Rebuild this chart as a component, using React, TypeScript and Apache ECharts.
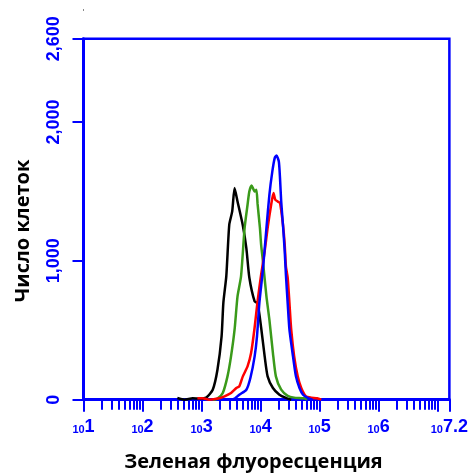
import React, { useEffect, useRef } from "react";
import * as echarts from "echarts";

// x values are log10 of fluorescence intensity, y values are cell counts
const blackSeries: [number, number][] = [
  [2.59, 12], [2.71, 0], [2.85, 10], [2.97, 8], [3.08, 15], [3.19, 72], [3.27, 216],
  [3.34, 456], [3.37, 698], [3.42, 890], [3.47, 1260], [3.52, 1356], [3.56, 1524],
  [3.61, 1428], [3.70, 1255], [3.76, 1090], [3.81, 880], [3.90, 708], [3.95, 696],
  [4.01, 520], [4.07, 312], [4.12, 168], [4.21, 84], [4.32, 36], [4.43, 13], [4.52, 0],
];
const greenSeries: [number, number][] = [
  [3.19, 0], [3.27, 8], [3.36, 48], [3.44, 168], [3.50, 312], [3.56, 504], [3.61, 744],
  [3.67, 890], [3.73, 1236], [3.78, 1404], [3.81, 1500], [3.85, 1543], [3.90, 1500],
  [3.93, 1512], [3.95, 1410], [3.99, 1236], [4.01, 1116], [4.04, 1000], [4.10, 744],
  [4.15, 576], [4.21, 336], [4.26, 168], [4.35, 72], [4.46, 28], [4.57, 15], [4.74, 10],
  [4.79, 0],
];
const redSeries: [number, number][] = [
  [2.93, 10], [3.02, 10], [3.13, 0], [3.30, 10], [3.39, 24], [3.50, 48], [3.59, 84],
  [3.64, 96], [3.70, 168], [3.78, 240], [3.84, 336], [3.90, 520], [3.95, 710], [4.01, 900],
  [4.07, 1068], [4.12, 1236], [4.18, 1404], [4.22, 1488], [4.25, 1440], [4.29, 1428],
  [4.33, 1416], [4.38, 1260], [4.41, 1116], [4.43, 960], [4.46, 880], [4.49, 696],
  [4.52, 504], [4.57, 312], [4.63, 168], [4.69, 84], [4.77, 24], [4.86, 15], [4.96, 10],
  [5.03, 0],
];
const blueSeries: [number, number][] = [
  [3.51, 0], [3.57, 10], [3.64, 36], [3.76, 72], [3.83, 160], [3.90, 312], [3.94, 456],
  [3.98, 696], [4.04, 936], [4.10, 1236], [4.15, 1476], [4.20, 1644], [4.24, 1740],
  [4.27, 1759], [4.31, 1716], [4.33, 1596], [4.35, 1428], [4.38, 1260], [4.41, 1068],
  [4.43, 900], [4.46, 696], [4.49, 504], [4.55, 312], [4.60, 168], [4.66, 84], [4.72, 36],
  [4.80, 13], [4.88, 0],
];

const xLabelExponents = [1, 2, 3, 4, 5, 6, 7.2];
const xMajorTicks = [1, 2, 3, 4, 5, 6, 7, 7.2];
const minorDecades = [1, 2, 3, 4, 5, 6];
const minorMultipliers = [2, 3, 4, 5, 6, 7, 8, 9];
const yTickValues = [0, 1000, 2000, 2600];

const xTitle = "Зеленая флуоресценция";
const yTitle = "Число клеток";

const BLUE = "#0000ff";

export default function App() {
  const ref = useRef<HTMLDivElement>(null);
  useEffect(() => {
    if (!ref.current) return;
    const chart = echarts.init(ref.current, undefined, { renderer: "svg" });
    const minorTicks: number[] = [];
    minorDecades.forEach((n) =>
      minorMultipliers.forEach((k) => minorTicks.push(n + Math.log10(k)))
    );
    const mkLine = (data: [number, number][], color: string) => ({
      type: "line",
      data,
      xAxisIndex: 0,
      yAxisIndex: 0,
      showSymbol: false,
      smooth: 0.2,
      lineStyle: { color, width: 2.5 },
      z: 3,
    });
    chart.setOption({
      animation: false,
      grid: {
        left: 83.5,
        right: 21.5,
        top: 38.7,
        bottom: 73.3,
        show: true,
        borderColor: BLUE,
        borderWidth: 2.5,
        backgroundColor: "transparent",
      },
      xAxis: [
        {
          type: "value",
          min: 1,
          max: 7.2,
          position: "bottom",
          axisLine: { show: true, onZero: false, lineStyle: { color: BLUE, width: 3 } },
          axisTick: {
            show: true,
            customValues: xMajorTicks,
            length: 12,
            lineStyle: { color: BLUE, width: 2 },
          },
          axisLabel: {
            show: true,
            customValues: xLabelExponents,
            margin: 17,
            formatter: (v: number) => `{b|10}{e|${v}}`,
            rich: {
              b: {
                fontSize: 11,
                fontWeight: "bold",
                fontFamily: "Liberation Sans, Arial, sans-serif",
                color: BLUE,
                lineHeight: 11,
                verticalAlign: "bottom",
              },
              e: {
                fontSize: 18,
                fontWeight: "bold",
                fontFamily: "Liberation Sans, Arial, sans-serif",
                color: BLUE,
                lineHeight: 18,
                verticalAlign: "bottom",
              },
            },
          },
          splitLine: { show: false },
        },
        {
          type: "value",
          min: 1,
          max: 7.2,
          position: "bottom",
          axisLine: { show: false },
          axisTick: {
            show: true,
            customValues: minorTicks,
            length: 10,
            lineStyle: { color: BLUE, width: 2 },
          },
          axisLabel: { show: false },
          splitLine: { show: false },
        },
      ],
      yAxis: {
        type: "value",
        min: 0,
        max: 2600,
        axisLine: { show: true, lineStyle: { color: BLUE, width: 3 } },
        axisTick: {
          show: true,
          customValues: yTickValues,
          length: 11,
          lineStyle: { color: BLUE, width: 2 },
        },
        axisLabel: {
          show: true,
          customValues: yTickValues,
          rotate: 90,
          margin: 22,
          color: BLUE,
          fontSize: 18,
          fontWeight: "bold",
          fontFamily: "Liberation Sans, Arial, sans-serif",
          formatter: (v: number) => v.toLocaleString("en-US"),
        },
        splitLine: { show: false },
      },
      graphic: [
        {
          type: "text",
          x: 21,
          y: 231,
          rotation: Math.PI / 2,
          style: {
            text: yTitle,
            font: 'bold 20px "Open Sans"',
            fill: "#000",
            align: "center",
            verticalAlign: "middle",
          },
        },
        {
          type: "text",
          x: 253.5,
          y: 460,
          style: {
            text: xTitle,
            font: 'bold 20px "Open Sans"',
            fill: "#000",
            align: "center",
            verticalAlign: "middle",
          },
        },
        {
          type: "rect",
          shape: { x: 83, y: 9, width: 1, height: 2 },
          style: { fill: "#888" },
        },
      ],
      series: [
        mkLine(blackSeries, "#000000"),
        mkLine(greenSeries, "#3a9a1a"),
        mkLine(redSeries, "#ff0000"),
        mkLine(blueSeries, BLUE),
      ],
    });
    return () => chart.dispose();
  }, []);
  return (
    <div
      ref={ref}
      style={{ position: "fixed", left: 0, top: 0, width: 471, height: 473 }}
    />
  );
}
